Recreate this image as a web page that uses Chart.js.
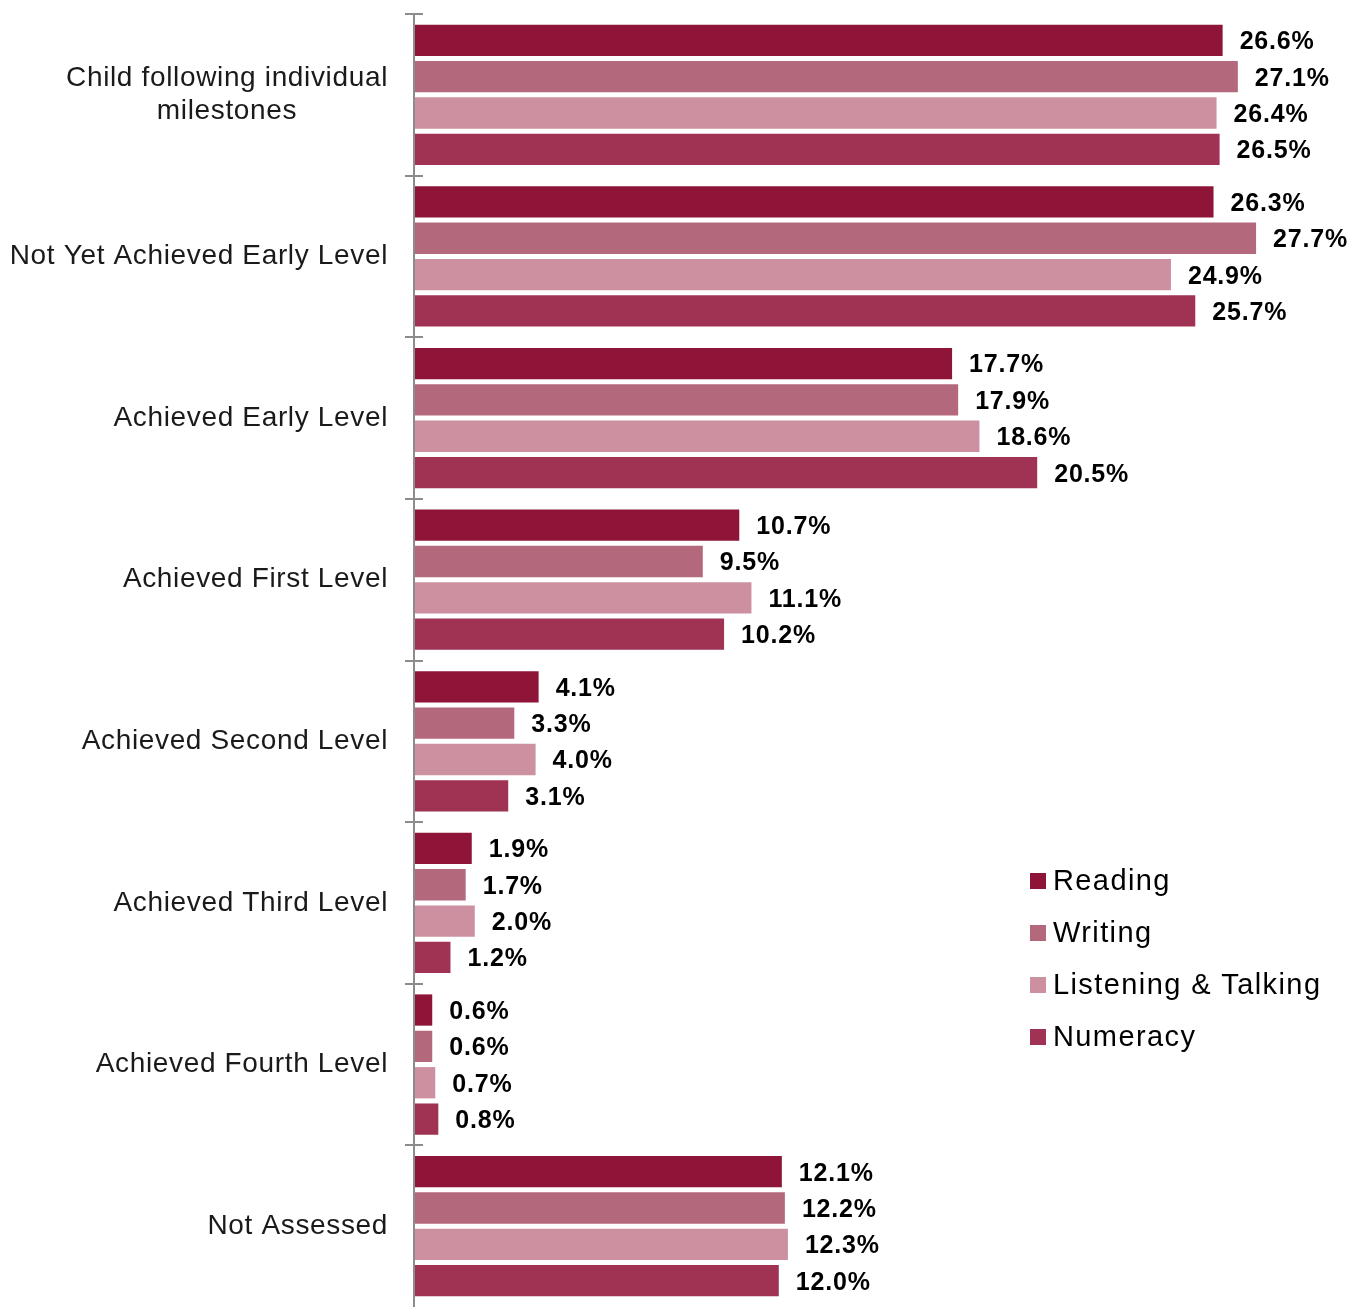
<!DOCTYPE html>
<html lang="en">
<head>
  <meta charset="UTF-8">
  <title>Levels Achieved</title>
  <script src="https://cdn.jsdelivr.net/npm/chart.js"></script>
  <style>
    html, body { margin: 0; padding: 0; background: #fff; }
    #wrap { width: 1365px; height: 1307px; }
  </style>
</head>
<body>
  <div id="wrap"><canvas id="levelsChart"></canvas></div>

  <script>
// categories (multi-line labels as arrays)
const categories = [
  ['Child following individual', 'milestones'],
  'Not Yet Achieved Early Level',
  'Achieved Early Level',
  'Achieved First Level',
  'Achieved Second Level',
  'Achieved Third Level',
  'Achieved Fourth Level',
  'Not Assessed'
];

const seriesNames = ['Reading', 'Writing', 'Listening & Talking', 'Numeracy'];
const seriesColors = ['#8E1538', '#B4687C', '#CC90A0', '#A03354'];

const reading   = [26.6, 26.3, 17.7, 10.7, 4.1, 1.9, 0.6, 12.1];
const writing   = [27.1, 27.7, 17.9,  9.5, 3.3, 1.7, 0.6, 12.2];
const listening = [26.4, 24.9, 18.6, 11.1, 4.0, 2.0, 0.7, 12.3];
const numeracy  = [26.5, 25.7, 20.5, 10.2, 3.1, 1.2, 0.8, 12.0];

const seriesValues = [reading, writing, listening, numeracy];

const AXIS_W = 414;
const labelFont = '28px "Liberation Sans", Arial, sans-serif';
const legendFont = '29px "Liberation Sans", Arial, sans-serif';
const valueFont = 'bold 25px "Liberation Sans", Arial, sans-serif';

// draws category labels, the axis tick marks, value labels and the legend
const extrasPlugin = {
  id: 'extras',
  afterDraw(chart) {
    const ctx = chart.ctx;
    const yScale = chart.scales.y;
    const area = chart.chartArea;
    const step = (area.bottom - area.top) / categories.length;

    ctx.save();

    // axis line + cross ticks
    ctx.strokeStyle = '#8C8C8C';
    ctx.lineWidth = 2;
    ctx.beginPath();
    ctx.moveTo(area.left, area.top);
    ctx.lineTo(area.left, chart.height);
    for (let i = 0; i <= categories.length; i++) {
      const y = Math.round(area.top + i * step);
      if (y > chart.height - 2) continue;
      ctx.moveTo(area.left - 9, y);
      ctx.lineTo(area.left + 9, y);
    }
    ctx.stroke();

    // category labels
    ctx.font = labelFont;
    ctx.letterSpacing = '0.65px';
    ctx.fillStyle = '#1A1A1A';
    ctx.textBaseline = 'middle';
    const rightX = area.left - 26;
    categories.forEach((cat, i) => {
      const yc = yScale.getPixelForValue(i);
      const lines = Array.isArray(cat) ? cat : [cat];
      const lh = 33;
      const widths = lines.map(l => ctx.measureText(l).width);
      const maxW = Math.max(...widths);
      const cx = rightX - maxW / 2;
      ctx.textAlign = lines.length > 1 ? 'center' : 'right';
      lines.forEach((l, j) => {
        const y = yc + (j - (lines.length - 1) / 2) * lh;
        ctx.fillText(l, lines.length > 1 ? cx : rightX, y);
      });
    });

    // value labels
    ctx.font = valueFont;
    ctx.letterSpacing = '0.8px';
    ctx.fillStyle = '#000';
    ctx.textAlign = 'left';
    chart.data.datasets.forEach((ds, di) => {
      const meta = chart.getDatasetMeta(di);
      meta.data.forEach((bar, i) => {
        ctx.fillText(ds.data[i].toFixed(1) + '%', bar.x + 17, bar.y + 2);
      });
    });

    // legend
    ctx.font = legendFont;
    ctx.letterSpacing = '1.4px';
    seriesNames.forEach((name, i) => {
      const y = 881 + i * 52;
      ctx.fillStyle = seriesColors[i];
      ctx.fillRect(1030, y - 8, 16, 16);
      ctx.fillStyle = '#000';
      ctx.fillText(name, 1053, y + 1);
    });

    ctx.restore();
  }
};

const datasets = seriesNames.map((name, i) => ({
  label: name,
  data: seriesValues[i],
  backgroundColor: seriesColors[i],
  borderWidth: 0,
  categoryPercentage: 0.9,
  barPercentage: 0.86
}));

const ctx = document.getElementById('levelsChart').getContext('2d');
new Chart(ctx, {
  type: 'bar',
  data: { labels: categories, datasets: datasets },
  plugins: [extrasPlugin],
  options: {
    indexAxis: 'y',
    responsive: true,
    maintainAspectRatio: false,
    animation: false,
    layout: { padding: { top: 14, right: 39, bottom: -3, left: 0 } },
    plugins: {
      legend: { display: false },
      tooltip: { enabled: false }
    },
    scales: {
      x: {
        display: false,
        min: 0,
        max: 30
      },
      y: {
        display: true,
        grid: { display: false },
        border: { display: false },
        ticks: { display: false },
        afterFit(scale) { scale.width = AXIS_W; }
      }
    }
  }
});
  </script>
</body>
</html>
